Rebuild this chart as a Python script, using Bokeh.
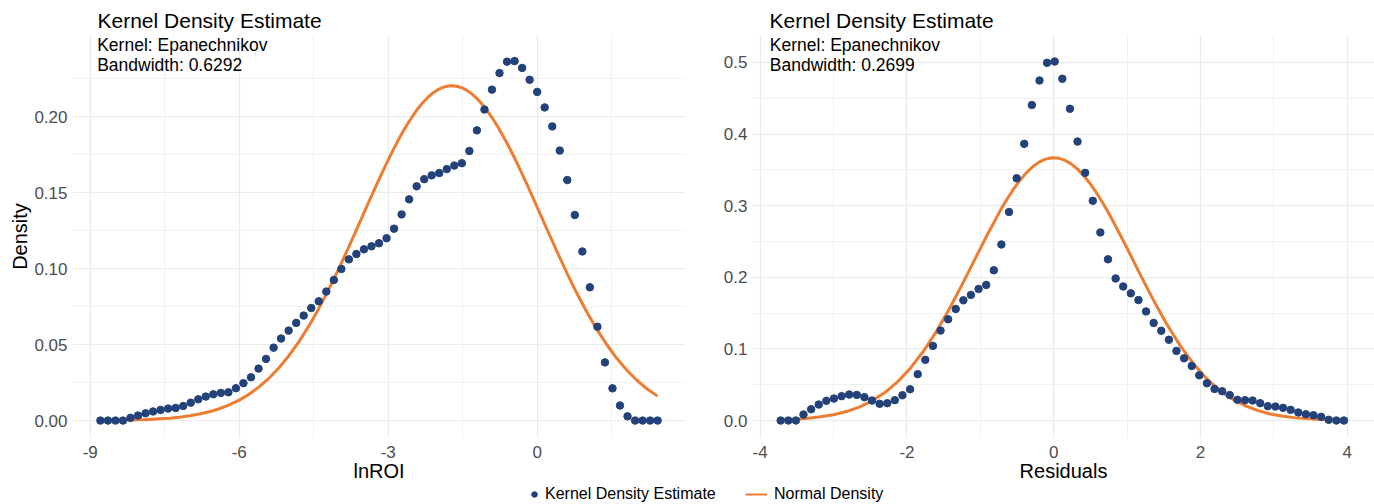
from bokeh.plotting import figure
from bokeh.layouts import row, column
from bokeh.models import Range1d, FixedTicker, PrintfTickFormatter, Label, Legend, LegendItem
from bokeh.embed import file_html
from bokeh.resources import INLINE

FONT = "Liberation Sans"
NAVY = "#23427a"
ORANGE = "#ED7D31"

# ---------------- data: lnROI panel ----------------
lnroi_x = [-8.795, -8.643, -8.492, -8.340, -8.189, -8.037, -7.885, -7.734, -7.582, -7.431,
           -7.279, -7.127, -6.976, -6.824, -6.673, -6.521, -6.369, -6.218, -6.066, -5.915,
           -5.763, -5.611, -5.460, -5.308, -5.157, -5.005, -4.853, -4.702, -4.550, -4.399,
           -4.247, -4.095, -3.944, -3.792, -3.641, -3.489, -3.337, -3.186, -3.034, -2.883,
           -2.731, -2.579, -2.428, -2.276, -2.125, -1.973, -1.821, -1.670, -1.518, -1.367,
           -1.215, -1.063, -0.912, -0.760, -0.609, -0.457, -0.305, -0.154, -0.002, 0.149,
           0.301, 0.453, 0.604, 0.756, 0.907, 1.059, 1.211, 1.362, 1.514, 1.665,
           1.817, 1.969, 2.120, 2.272, 2.423]
lnroi_kde = [0.0, 0.0, 0.0, 0.0, 0.0018, 0.0033, 0.0048, 0.0060, 0.0070, 0.0079,
             0.0083, 0.0096, 0.0118, 0.0140, 0.0158, 0.0173, 0.0182, 0.0186, 0.0213, 0.0246,
             0.0285, 0.0342, 0.0406, 0.0480, 0.0540, 0.0592, 0.0643, 0.0691, 0.0741, 0.0785,
             0.0849, 0.0925, 0.0998, 0.1061, 0.1096, 0.1127, 0.1147, 0.1167, 0.1200, 0.1263,
             0.1357, 0.1456, 0.1542, 0.1589, 0.1614, 0.1629, 0.1655, 0.1678, 0.1694, 0.1774,
             0.1910, 0.2047, 0.2178, 0.2287, 0.2362, 0.2366, 0.2321, 0.2243, 0.2163, 0.2061,
             0.1936, 0.1777, 0.1583, 0.1353, 0.1113, 0.0877, 0.0618, 0.0383, 0.0212, 0.0099,
             0.0028, 0.0, 0.0, 0.0, 0.0]
lnroi_norm_x = [-8.8, -8.6, -8.4, -8.2, -8.0, -7.8, -7.6, -7.4, -7.2, -7.0,
                -6.8, -6.6, -6.4, -6.2, -6.0, -5.8, -5.6, -5.4, -5.2, -5.0,
                -4.8, -4.6, -4.4, -4.2, -4.0, -3.8, -3.6, -3.4, -3.2, -3.0,
                -2.9, -2.8, -2.7, -2.6, -2.5, -2.4, -2.3, -2.2, -2.1, -2.0,
                -1.9, -1.8, -1.7, -1.6, -1.5, -1.4, -1.3, -1.2, -1.1, -1.0,
                -0.9, -0.8, -0.7, -0.6, -0.5, -0.4,
                -0.2, 0.0, 0.2, 0.4, 0.6, 0.8, 1.0, 1.2, 1.4, 1.6, 1.8, 2.0, 2.2, 2.42]
lnroi_norm = [0.0001, 0.00016, 0.00024, 0.00036, 0.00054, 0.00078, 0.00113, 0.0016, 0.00225, 0.00313,
              0.00429, 0.00581, 0.00779, 0.0103, 0.01346, 0.01737, 0.02217, 0.0279, 0.03472, 0.04267,
              0.05182, 0.06215, 0.07366, 0.0862, 0.09969, 0.1139, 0.1285, 0.1433, 0.1578, 0.1716,
              0.1782, 0.1845, 0.1904, 0.1958, 0.2008, 0.2054, 0.2094, 0.2128, 0.2156, 0.2178,
              0.2193, 0.2202, 0.2204, 0.2199, 0.2188, 0.2170, 0.2145, 0.2115, 0.2078, 0.2036,
              0.1989, 0.1937, 0.1880, 0.1820, 0.1756, 0.1689,
              0.1549, 0.1403, 0.1256, 0.1110, 0.0969, 0.0836, 0.0713, 0.0600, 0.0499, 0.0410,
              0.0333, 0.0267, 0.0211, 0.0161]

# ---------------- data: Residuals panel ----------------
resid_x = [-3.720, -3.616, -3.513, -3.409, -3.305, -3.202, -3.098, -2.994, -2.890, -2.787,
           -2.683, -2.579, -2.476, -2.372, -2.268, -2.165, -2.061, -1.957, -1.853, -1.750,
           -1.646, -1.542, -1.439, -1.335, -1.231, -1.128, -1.024, -0.920, -0.816, -0.713,
           -0.609, -0.505, -0.402, -0.298, -0.194, -0.091, 0.013, 0.117, 0.221, 0.324,
           0.428, 0.532, 0.635, 0.739, 0.843, 0.946, 1.050, 1.154, 1.258, 1.361,
           1.465, 1.569, 1.672, 1.776, 1.880, 1.983, 2.087, 2.191, 2.295, 2.398,
           2.502, 2.606, 2.709, 2.813, 2.917, 3.020, 3.124, 3.228, 3.332, 3.435,
           3.539, 3.643, 3.746, 3.850, 3.954]
resid_kde = [0.0, 0.0, 0.0, 0.0084, 0.0158, 0.0223, 0.0275, 0.0307, 0.0340, 0.0363,
             0.0358, 0.0326, 0.0279, 0.0233, 0.0242, 0.0284, 0.0353, 0.0437, 0.0647, 0.0847,
             0.1042, 0.1256, 0.1414, 0.1558, 0.1679, 0.1754, 0.1837, 0.1893, 0.2098, 0.2458,
             0.2912, 0.3383, 0.3863, 0.4405, 0.4748, 0.4995, 0.5013, 0.4772, 0.4353, 0.3895,
             0.3458, 0.3068, 0.2626, 0.2251, 0.1983, 0.1872, 0.1776, 0.1682, 0.1523, 0.1363,
             0.1254, 0.1128, 0.0972, 0.0869, 0.0762, 0.0632, 0.0520, 0.0441, 0.0409, 0.0355,
             0.0289, 0.0284, 0.0279, 0.0242, 0.0200, 0.0195, 0.0177, 0.0149, 0.0112, 0.0088,
             0.0074, 0.0051, 0.0010, 0.0, 0.0]
resid_norm_x = [-3.72, -3.525, -3.35, -3.175, -3.0, -2.825, -2.65, -2.475, -2.3, -2.125,
                -1.95, -1.775, -1.6, -1.425, -1.25, -1.075, -0.9, -0.725, -0.6375, -0.55,
                -0.4625, -0.375, -0.2875, -0.2, -0.1125, -0.025, 0.0625, 0.15, 0.2375, 0.325,
                0.4125, 0.5, 0.5875, 0.675, 0.7625, 0.85, 1.025, 1.2, 1.375, 1.55,
                1.725, 1.9, 2.075, 2.25, 2.425, 2.6, 2.775, 2.95, 3.125, 3.3, 3.65, 3.95]
resid_norm = [0.00105, 0.0019, 0.0032, 0.0052, 0.0081, 0.0125, 0.0188, 0.0275, 0.0391, 0.0543,
              0.0734, 0.0967, 0.1242, 0.1554, 0.1894, 0.2250, 0.2605, 0.2938, 0.3090, 0.3229,
              0.3352, 0.3458, 0.3544, 0.3608, 0.3650, 0.3669, 0.3664, 0.3635, 0.3583, 0.3510,
              0.3415, 0.3302, 0.3171, 0.3026, 0.2870, 0.2703, 0.2353, 0.1995, 0.1649, 0.1328,
              0.1042, 0.0797, 0.0593, 0.0431, 0.0305, 0.0210, 0.0141, 0.0092, 0.0059, 0.0037,
              0.0013, 0.0005]

# ---------------- ticks / labels ----------------
title_text = "Kernel Density Estimate"
sub1_text = "Kernel: Epanechnikov"
sub2_left = "Bandwidth: 0.6292"
sub2_right = "Bandwidth: 0.2699"
legend_kde = "Kernel Density Estimate"
legend_norm = "Normal Density"

left_xticks = [-9, -6, -3, 0]
left_xminor = [-7.5, -4.5, -1.5, 1.5]
left_yticks = [0.0, 0.05, 0.10, 0.15, 0.20]
left_yminor = [0.025, 0.075, 0.125, 0.175, 0.225]
right_xticks = [-4, -2, 0, 2, 4]
right_xminor = [-3, -1, 1, 3]
right_yticks = [0.0, 0.1, 0.2, 0.3, 0.4, 0.5]
right_yminor = [0.05, 0.15, 0.25, 0.35, 0.45]

H = 485


def make_fig(width, border_left, border_right, xr, yr):
    p = figure(width=width, height=H, output_backend="svg", toolbar_location=None,
               x_range=Range1d(*xr), y_range=Range1d(*yr),
               min_border_left=border_left, min_border_right=border_right,
               min_border_top=34, min_border_bottom=47)
    p.outline_line_color = None
    p.background_fill_color = "white"
    p.border_fill_color = "white"
    return p


def style(p, xt, xmt, yt, ymt, yfmt, xlabel, ylabel, title_offset):
    p.xaxis.ticker = FixedTicker(ticks=xt, minor_ticks=xmt)
    p.yaxis.ticker = FixedTicker(ticks=yt, minor_ticks=ymt)
    p.xaxis.formatter = PrintfTickFormatter(format="%d")
    p.yaxis.formatter = PrintfTickFormatter(format=yfmt)
    for ax in (p.xaxis[0], p.yaxis[0]):
        ax.axis_line_color = None
        ax.major_tick_line_color = None
        ax.minor_tick_line_color = None
        ax.major_tick_out = 0
        ax.major_tick_in = 0
        ax.minor_tick_out = 0
        ax.minor_tick_in = 0
        ax.major_label_text_font = FONT
        ax.major_label_text_font_size = "17px"
        ax.major_label_text_color = "#4d4d4d"
        ax.axis_label_text_font = FONT
        ax.axis_label_text_font_size = "20px"
        ax.axis_label_text_font_style = "normal"
        ax.axis_label_text_color = "black"
    p.xaxis.major_label_standoff = 7
    p.xaxis.axis_label_standoff = -1
    p.yaxis.major_label_standoff = 5
    p.yaxis.axis_label_standoff = 0
    p.xaxis.axis_label = xlabel
    if ylabel:
        p.yaxis.axis_label = ylabel
    for g in (p.xgrid[0], p.ygrid[0]):
        g.grid_line_color = "#ebebeb"
        g.grid_line_width = 1.2
        g.minor_grid_line_color = "#ebebeb"
        g.minor_grid_line_width = 0.7
    p.title.text = title_text
    p.title.text_font = FONT
    p.title.text_font_size = "21px"
    p.title.text_font_style = "normal"
    p.title.text_color = "black"
    p.title.align = "left"
    p.title.offset = title_offset
    p.title.standoff = 5


def sub_label(x, y, text):
    return Label(x=x, y=y, text=text, text_font=FONT, text_font_size="17.5px",
                 text_color="black", text_baseline="middle")


def make_legend(item, loc, glyph_w, standoff):
    return Legend(items=[item], location=loc, orientation="horizontal",
                  padding=0, margin=0, spacing=0, label_standoff=standoff,
                  glyph_width=glyph_w, glyph_height=16, label_height=16,
                  label_text_font=FONT, label_text_font_size="16px", label_text_color="black",
                  background_fill_alpha=0, border_line_color=None)


# ---------------- left panel ----------------
p1 = make_fig(720, 72, 35, (-9.356, 2.984), (-0.0118, 0.2541))
style(p1, left_xticks, left_xminor, left_yticks, left_yminor, "%.2f", "lnROI", "Density", 25)
p1.line(lnroi_norm_x, lnroi_norm, line_color=ORANGE, line_width=3, line_join="round")
p1.scatter(lnroi_x, lnroi_kde, size=7.5, fill_color=NAVY, line_color=NAVY)
p1.add_layout(sub_label(-8.859, 0.2475, sub1_text))
p1.add_layout(sub_label(-8.859, 0.2340, sub2_left))

# ---------------- right panel ----------------
p2 = make_fig(654, 32, 0, (-4.104, 4.370), (-0.0251, 0.5390))
style(p2, right_xticks, right_xminor, right_yticks, right_yminor, "%.1f", "Residuals", None, 17)
p2.line(resid_norm_x, resid_norm, line_color=ORANGE, line_width=3, line_join="round")
p2.scatter(resid_x, resid_kde, size=7.5, fill_color=NAVY, line_color=NAVY)
p2.add_layout(sub_label(-3.868, 0.5250, sub1_text))
p2.add_layout(sub_label(-3.868, 0.4964, sub2_right))

# ---------------- shared legend strip ----------------
pl = figure(width=1374, height=18, output_backend="svg", toolbar_location=None,
            x_range=Range1d(0, 1), y_range=Range1d(0, 1),
            x_axis_location=None, y_axis_location=None,
            min_border_left=0, min_border_right=0, min_border_top=0, min_border_bottom=0)
pl.outline_line_color = None
pl.xgrid.visible = False
pl.ygrid.visible = False
# legend keys reuse one data point each (it falls outside this strip's 0..1 ranges)
kde_key = pl.scatter(lnroi_x[:1], lnroi_kde[:1], size=7, fill_color=NAVY, line_color=NAVY)
norm_key = pl.line(resid_norm_x[:2], resid_norm[:2], line_color=ORANGE, line_width=2)
pl.add_layout(make_legend(LegendItem(label=legend_kde, renderers=[kde_key]), (527, 0), 14, 4))
pl.add_layout(make_legend(LegendItem(label=legend_norm, renderers=[norm_key]), (745, 0), 22, 7))

layout = column(row(p1, p2), pl)
open("out.html", "w").write(file_html(layout, INLINE))
